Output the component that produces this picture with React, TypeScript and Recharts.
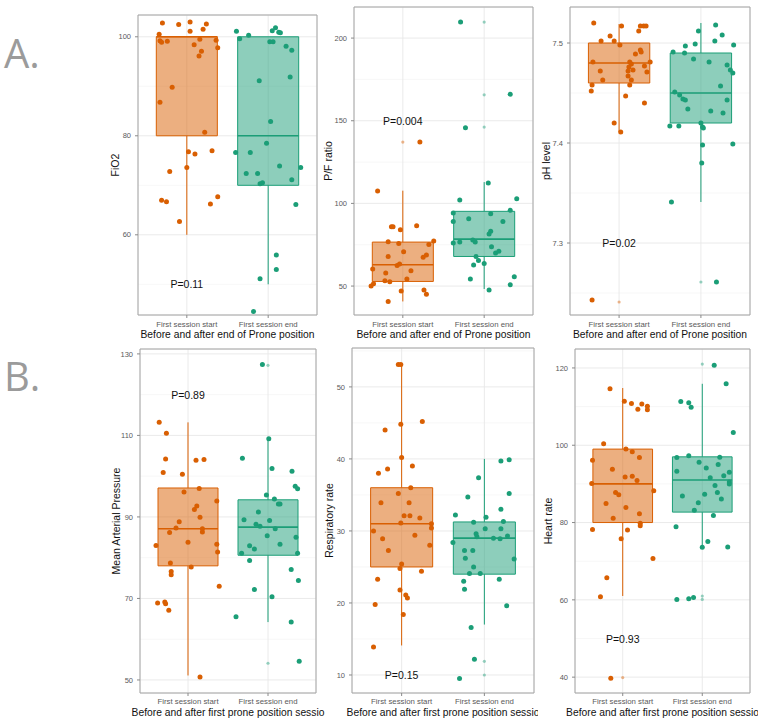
import React from 'react';
import {
  ComposedChart,
  Scatter,
  XAxis,
  YAxis,
  CartesianGrid,
  ReferenceArea,
  ReferenceLine,
} from 'recharts';

const CATEGORIES = ['First session start', 'First session end'];
const ORANGE = '#D95F02';
const GREEN = '#1B9E77';

// ---------- A. FiO2 ----------
const fio2StartValues = [102.8, 102.5, 103.0, 101.1, 102.6, 101.5, 100.5, 99.2, 98.9, 99.1, 98.4, 99.5, 97.1, 96.1, 99.3, 97.8, 89.8, 86.8, 80.7, 76.8, 76.3, 77.0, 73.6, 72.8, 67.0, 66.7, 66.2, 67.7, 62.7];
const fio2StartJitter = [-0.30, -0.10, 0.04, 0.04, 0.24, 0.20, -0.34, -0.33, -0.31, -0.24, 0.09, 0.16, 0.18, 0.15, 0.36, 0.38, -0.18, -0.33, 0.22, 0.02, 0.10, 0.31, 0.00, -0.21, -0.31, -0.25, 0.29, 0.38, -0.09];
const fio2EndValues = [101.1, 99.6, 100.3, 101.2, 101.8, 100.9, 100.8, 99.0, 99.0, 98.1, 97.3, 91.1, 91.9, 82.9, 76.6, 76.6, 78.5, 72.4, 72.4, 73.9, 71.1, 73.6, 70.3, 70.5, 66.1, 55.9, 53.0, 51.1, 44.5];
const fio2EndJitter = [-0.39, -0.35, -0.24, 0.05, 0.09, 0.13, 0.15, 0.02, 0.06, 0.22, 0.29, -0.11, 0.27, 0.03, -0.40, -0.22, -0.02, -0.27, -0.13, 0.14, 0.29, 0.40, -0.10, -0.07, 0.34, 0.10, 0.10, -0.10, -0.18];
// box stats: [lower whisker, Q1, median, Q3, upper whisker]
const fio2StartBox = [60, 80, 100, 100, 100];
const fio2EndBox = [50, 70, 80, 100, 100];
const fio2StartOutliers: number[] = [];
const fio2EndOutliers: number[] = [];

// ---------- A. P/F ratio ----------
const pfStartValues = [137.1, 107.5, 85.9, 85.9, 84.1, 86.5, 76.8, 75.8, 77.2, 75.2, 70.8, 67.9, 67.5, 68.8, 60.3, 62.5, 63.3, 59.3, 57.9, 54.2, 51.4, 50.0, 53.2, 52.6, 47.0, 47.6, 45.0, 40.7];
const pfStartJitter = [0.21, -0.31, -0.14, -0.12, -0.03, 0.17, -0.18, -0.05, 0.38, 0.32, 0.01, -0.18, 0.25, 0.29, -0.37, -0.07, -0.04, 0.10, -0.21, 0.05, -0.36, -0.39, -0.22, -0.16, -0.02, 0.26, 0.29, -0.18];
const pfEndValues = [209.7, 166.1, 145.8, 112.3, 102.0, 102.8, 90.7, 94.2, 89.1, 93.8, 95.8, 89.1, 83.1, 81.5, 76.0, 76.6, 77.8, 76.6, 73.8, 70.0, 71.0, 67.9, 65.5, 62.7, 63.7, 54.2, 55.6, 50.8, 47.6];
const pfEndJitter = [-0.29, 0.32, -0.23, 0.05, -0.30, 0.40, -0.19, -0.38, -0.38, 0.08, 0.32, 0.23, 0.08, 0.06, -0.38, -0.30, -0.14, -0.11, 0.09, 0.14, 0.18, -0.10, -0.07, -0.13, 0.00, -0.17, 0.37, 0.32, 0.06];
const pfStartBox = [40.7, 52.8, 62.9, 76.6, 107.7];
const pfEndBox = [48.2, 67.9, 78.4, 95.2, 112.9];
const pfStartOutliers = [137.1];
const pfEndOutliers = [209.7, 165.7, 146.2];

// ---------- A. pH level ----------
const phStartValues = [7.520, 7.517, 7.517, 7.517, 7.517, 7.512, 7.507, 7.502, 7.502, 7.498, 7.493, 7.491, 7.489, 7.481, 7.481, 7.479, 7.481, 7.477, 7.472, 7.476, 7.472, 7.473, 7.471, 7.467, 7.463, 7.463, 7.458, 7.458, 7.452, 7.447, 7.440, 7.420, 7.411, 7.243];
const phStartJitter = [-0.31, 0.03, 0.26, 0.30, 0.33, 0.24, -0.11, -0.22, -0.06, 0.01, 0.26, 0.27, 0.20, -0.32, 0.13, 0.15, 0.38, 0.31, -0.23, 0.12, 0.11, 0.17, 0.34, 0.11, 0.15, -0.20, -0.33, 0.13, -0.34, 0.08, 0.31, -0.06, 0.02, -0.33];
const phEndValues = [7.518, 7.508, 7.512, 7.499, 7.497, 7.491, 7.490, 7.502, 7.498, 7.484, 7.481, 7.478, 7.473, 7.470, 7.451, 7.448, 7.444, 7.443, 7.457, 7.443, 7.434, 7.432, 7.430, 7.417, 7.417, 7.420, 7.416, 7.415, 7.398, 7.399, 7.380, 7.341, 7.261];
const phEndJitter = [0.18, 0.26, -0.03, -0.07, -0.19, -0.34, -0.20, 0.17, 0.40, -0.09, 0.10, 0.32, 0.36, 0.39, -0.32, -0.26, -0.22, -0.19, 0.24, 0.32, -0.16, 0.12, 0.27, -0.38, -0.27, 0.00, 0.02, 0.03, 0.02, 0.39, 0.01, -0.36, 0.19];
const phStartBox = [7.411, 7.46, 7.48, 7.50, 7.519];
const phEndBox = [7.341, 7.42, 7.45, 7.49, 7.52];
const phStartOutliers = [7.241];
const phEndOutliers = [7.261];

// ---------- B. Mean Arterial Pressure ----------
const mapStartValues = [113.2, 110.5, 104.2, 100.9, 100.5, 103.9, 104.1, 96.1, 97.0, 93.9, 92.7, 91.8, 89.9, 88.8, 87.3, 86.2, 87.1, 86.3, 83.0, 83.8, 83.3, 81.4, 78.7, 76.6, 75.8, 77.7, 73.0, 68.9, 69.1, 68.7, 67.1, 50.7];
const mapStartJitter = [-0.36, -0.27, -0.28, -0.31, -0.07, 0.10, 0.20, -0.05, 0.14, 0.36, 0.11, 0.08, 0.15, -0.11, -0.15, -0.23, 0.18, 0.18, -0.40, 0.00, 0.36, 0.37, -0.22, -0.21, -0.21, 0.04, 0.39, -0.38, -0.29, -0.28, -0.24, 0.15];
const mapEndValues = [127.4, 109.2, 104.4, 101.9, 101.2, 97.5, 96.9, 95.4, 94.4, 93.2, 93.2, 91.2, 89.3, 89.1, 88.2, 87.1, 87.7, 85.4, 85.0, 82.9, 82.1, 81.1, 83.3, 81.1, 79.3, 77.1, 74.4, 72.2, 70.4, 65.5, 64.2, 54.6];
const mapEndJitter = [-0.07, 0.01, -0.32, 0.05, 0.30, 0.34, 0.37, -0.02, 0.08, 0.13, 0.15, -0.12, -0.30, 0.02, -0.15, 0.09, -0.10, -0.01, 0.35, -0.23, -0.17, -0.33, 0.15, 0.37, -0.23, 0.29, 0.38, -0.17, 0.05, -0.40, 0.29, 0.39];
const mapStartBox = [51.1, 78.0, 87.1, 97.1, 113.2];
const mapEndBox = [64.2, 80.6, 87.5, 94.2, 109.2];
const mapStartOutliers: number[] = [];
const mapEndOutliers = [127.2, 54.1];

// ---------- B. Respiratory rate ----------
const rrStartValues = [53.1, 53.1, 45.2, 44.8, 44.0, 40.2, 39.0, 38.6, 38.0, 35.2, 36.0, 33.9, 33.9, 32.1, 32.1, 31.8, 31.1, 31.0, 30.4, 30.0, 28.9, 29.4, 28.0, 27.3, 25.4, 24.8, 24.4, 23.3, 21.8, 21.1, 20.7, 19.8, 18.4, 13.9];
const rrStartJitter = [-0.04, -0.01, 0.25, -0.01, -0.20, 0.00, 0.13, -0.17, -0.28, -0.04, 0.11, -0.25, 0.09, 0.03, 0.10, 0.22, -0.01, 0.36, 0.36, -0.34, -0.23, 0.16, 0.34, -0.16, 0.00, -0.02, 0.24, -0.29, -0.02, 0.05, 0.07, -0.32, 0.02, -0.34];
const rrEndValues = [39.7, 39.9, 37.4, 34.7, 35.2, 33.0, 32.2, 31.9, 31.2, 31.3, 29.6, 29.2, 30.3, 29.0, 30.3, 28.9, 29.3, 28.4, 27.3, 27.3, 26.2, 26.1, 25.0, 24.1, 24.1, 23.0, 23.3, 21.9, 19.6, 16.6, 12.2, 9.5];
const rrEndJitter = [0.20, 0.30, -0.07, -0.20, 0.30, 0.20, -0.35, 0.02, -0.13, 0.23, -0.10, -0.09, 0.01, 0.11, 0.20, 0.19, 0.28, -0.38, -0.24, -0.14, -0.23, 0.36, -0.13, -0.18, -0.05, -0.25, 0.18, -0.24, 0.27, -0.16, -0.12, -0.30];
const rrStartBox = [14.1, 25.0, 31.0, 36.0, 53.1];
const rrEndBox = [17.0, 24.0, 29.0, 31.25, 40.0];
const rrStartOutliers: number[] = [];
const rrEndOutliers = [11.9, 10.0];

// ---------- B. Heart rate ----------
const hrStartValues = [114.6, 111.4, 110.8, 110.7, 109.3, 110.1, 109.2, 100.4, 96.1, 99.0, 98.3, 96.8, 93.8, 91.8, 92.0, 90.9, 90.1, 87.8, 87.2, 88.2, 84.9, 83.9, 82.3, 81.1, 79.8, 79.2, 78.2, 78.1, 75.8, 70.7, 65.7, 60.8, 39.7];
const hrStartJitter = [-0.16, 0.02, 0.11, 0.24, 0.19, 0.31, 0.31, -0.24, -0.38, 0.04, 0.12, 0.21, -0.13, 0.03, 0.12, 0.18, -0.39, -0.09, -0.05, 0.39, -0.21, 0.04, 0.21, -0.12, 0.22, 0.22, -0.38, 0.06, -0.02, 0.38, -0.20, -0.28, -0.15];
const hrEndValues = [120.7, 115.9, 111.3, 111.0, 109.8, 103.3, 97.3, 96.8, 96.9, 95.6, 95.0, 93.3, 93.0, 94.1, 91.6, 92.1, 90.5, 90.0, 89.6, 87.8, 86.9, 87.3, 86.1, 85.1, 83.2, 81.8, 78.9, 75.1, 73.6, 73.7, 60.1, 60.3, 60.6];
const hrEndJitter = [0.15, 0.30, -0.27, -0.17, -0.14, 0.39, -0.17, -0.32, 0.22, -0.04, 0.20, -0.32, 0.34, 0.05, 0.10, 0.27, 0.34, 0.34, 0.16, 0.19, -0.25, 0.03, 0.24, -0.05, -0.10, 0.14, -0.33, 0.07, 0.00, 0.32, -0.32, -0.17, -0.11];
const hrStartBox = [61.0, 80.0, 90.0, 99.0, 114.8];
const hrEndBox = [73.6, 82.7, 91.0, 97.0, 115.9];
const hrStartOutliers = [39.9];
const hrEndOutliers = [121.0, 61.0, 60.1];

// ---------- panel texts ----------
const TOP_X_TITLE = 'Before and after end of Prone position';
// the reference shows this title cut at the panel edge
const BOTTOM_X_TITLE = 'Before and after first prone position sessio';

type Group = { values: number[]; jitter: number[]; box: number[]; outliers: number[]; color: string };

type PanelProps = {
  left: number;
  top: number;
  width: number;
  height: number;
  plot: { x0: number; x1: number; y0: number; y1: number };
  domain: [number, number];
  ticks: number[];
  minorTicks: number[];
  yTitle: string;
  yTitleOffset: number;
  xTitle: string;
  xTitleOffset: number;
  xTickMargin: number;
  pText: string;
  pY: number;
  groups: Group[];
};

const HALF = 0.375;

function Panel(p: PanelProps) {
  const margin = {
    top: p.plot.y0 - p.top,
    right: p.left + p.width - p.plot.x1,
    left: 0,
    bottom: 0,
  };
  const yAxisWidth = p.plot.x0 - p.left;
  const xAxisHeight = p.top + p.height - p.plot.y1;

  return (
    <div style={{ position: 'absolute', left: p.left, top: p.top, width: p.width, height: p.height }}>
      <ComposedChart width={p.width} height={p.height} margin={margin}>
        <CartesianGrid yAxisId="minor" vertical={false} stroke="#f2f2f2" strokeWidth={0.6} />
        <CartesianGrid stroke="#e8e8e8" strokeWidth={0.9} />
        <XAxis
          type="number"
          dataKey="x"
          domain={[0.4, 2.6]}
          ticks={[1, 2]}
          allowDataOverflow
          interval={0}
          tickFormatter={(v: number) => CATEGORIES[Math.round(v) - 1]}
          axisLine={false}
          tickLine={{ stroke: '#8a8a8a' }}
          tickSize={3}
          tickMargin={p.xTickMargin}
          tick={{ fontSize: 7.8, fill: '#5a5a5a' }}
          height={xAxisHeight}
          label={{ value: p.xTitle, position: 'insideBottom', offset: p.xTitleOffset, fontSize: 10.3, fill: '#111' }}
        />
        <YAxis
          type="number"
          dataKey="y"
          domain={p.domain}
          ticks={p.ticks}
          allowDataOverflow
          interval={0}
          width={yAxisWidth}
          axisLine={false}
          tickLine={{ stroke: '#8a8a8a' }}
          tickSize={3}
          tickMargin={4}
          tick={{ fontSize: 7.5, fill: '#5a5a5a' }}
          label={{
            value: p.yTitle,
            angle: -90,
            position: 'insideLeft',
            offset: p.yTitleOffset,
            fontSize: 10.5,
            fill: '#111',
            style: { textAnchor: 'middle' },
          }}
        />
        <YAxis yAxisId="minor" type="number" domain={p.domain} ticks={p.minorTicks} allowDataOverflow hide />

        {p.groups.map((g, i) => {
          const c = i + 1;
          const [, q1, , q3] = g.box;
          return (
            <ReferenceArea
              key={'box' + i}
              x1={c - HALF}
              x2={c + HALF}
              y1={q1}
              y2={q3}
              fill={g.color}
              fillOpacity={0.5}
              stroke={g.color}
              strokeWidth={1}
              ifOverflow="visible"
            />
          );
        })}
        {p.groups.map((g, i) => {
          const c = i + 1;
          const [lo, q1, med, q3, hi] = g.box;
          return [
            <ReferenceLine
              key={'med' + i}
              segment={[{ x: c - HALF, y: med }, { x: c + HALF, y: med }]}
              stroke={g.color}
              strokeWidth={1.6}
              ifOverflow="visible"
            />,
            hi > q3 ? (
              <ReferenceLine
                key={'wh' + i}
                segment={[{ x: c, y: q3 }, { x: c, y: hi }]}
                stroke={g.color}
                strokeWidth={1}
                ifOverflow="visible"
              />
            ) : null,
            lo < q1 ? (
              <ReferenceLine
                key={'wl' + i}
                segment={[{ x: c, y: lo }, { x: c, y: q1 }]}
                stroke={g.color}
                strokeWidth={1}
                ifOverflow="visible"
              />
            ) : null,
          ];
        })}
        <ReferenceArea
          x1={0.4}
          x2={2.6}
          y1={p.domain[0]}
          y2={p.domain[1]}
          fill="none"
          fillOpacity={0}
          stroke="#a6a6a6"
          strokeWidth={1}
          ifOverflow="visible"
        />
        {p.groups.map((g, i) => (
          <Scatter
            key={'out' + i}
            data={g.outliers.map((v) => ({ x: i + 1, y: v }))}
            isAnimationActive={false}
            shape={(s: any) => <circle cx={s.cx} cy={s.cy} r={1.6} fill={g.color} fillOpacity={0.45} />}
          />
        ))}
        {p.groups.map((g, i) => (
          <Scatter
            key={'pts' + i}
            data={g.values.map((v, k) => ({ x: i + 1 + g.jitter[k], y: v }))}
            isAnimationActive={false}
            shape={(s: any) => <circle cx={s.cx} cy={s.cy} r={2.5} fill={g.color} />}
          />
        ))}
        <Scatter
          data={[{ x: 1, y: p.pY }]}
          isAnimationActive={false}
          shape={(s: any) => (
            <text x={s.cx} y={s.cy} textAnchor="middle" dominantBaseline="central" fontSize={10.5} fill="#111">
              {p.pText}
            </text>
          )}
        />
      </ComposedChart>
    </div>
  );
}

export default function App() {
  const g = (values: number[], jitter: number[], box: number[], outliers: number[], color: string): Group => ({
    values,
    jitter,
    box,
    outliers,
    color,
  });

  return (
    <div
      style={{
        position: 'absolute',
        left: 0,
        top: 0,
        width: 760,
        height: 726,
        background: '#fff',
        overflow: 'hidden',
        fontFamily: "'Liberation Sans', Arial, sans-serif",
      }}
    >
      <svg width={760} height={726} style={{ position: 'absolute', left: 0, top: 0 }}>
        <text x={4} y={68} fontSize={40} fill="#9b9b9b" fontFamily="'Open Sans', sans-serif">A.</text>
        <text x={4} y={391} fontSize={40} fill="#9b9b9b" fontFamily="'Open Sans', sans-serif">B.</text>
      </svg>

      <Panel
        left={100}
        top={0}
        width={225}
        height={345}
        plot={{ x0: 138, x1: 317, y0: 15, y1: 315 }}
        domain={[43.8, 104.4]}
        ticks={[60, 80, 100]}
        minorTicks={[50, 70, 90]}
        yTitle="FiO2"
        yTitleOffset={15}
        xTitle={TOP_X_TITLE}
        xTitleOffset={7}
        xTickMargin={3}
        pText="P=0.11"
        pY={50}
        groups={[
          g(fio2StartValues, fio2StartJitter, fio2StartBox, fio2StartOutliers, ORANGE),
          g(fio2EndValues, fio2EndJitter, fio2EndBox, fio2EndOutliers, GREEN),
        ]}
      />
      <Panel
        left={320}
        top={0}
        width={218}
        height={345}
        plot={{ x0: 354, x1: 533, y0: 7, y1: 315 }}
        domain={[32.5, 218.8]}
        ticks={[50, 100, 150, 200]}
        minorTicks={[75, 125, 175]}
        yTitle="P/F ratio"
        yTitleOffset={8}
        xTitle={TOP_X_TITLE}
        xTitleOffset={7}
        xTickMargin={3}
        pText="P=0.004"
        pY={150}
        groups={[
          g(pfStartValues, pfStartJitter, pfStartBox, pfStartOutliers, ORANGE),
          g(pfEndValues, pfEndJitter, pfEndBox, pfEndOutliers, GREEN),
        ]}
      />
      <Panel
        left={538}
        top={0}
        width={222}
        height={345}
        plot={{ x0: 570, x1: 750, y0: 7, y1: 315 }}
        domain={[7.228, 7.536]}
        ticks={[7.3, 7.4, 7.5]}
        minorTicks={[7.25, 7.35, 7.45]}
        yTitle="pH level"
        yTitleOffset={8}
        xTitle={TOP_X_TITLE}
        xTitleOffset={7}
        xTickMargin={3}
        pText="P=0.02"
        pY={7.3}
        groups={[
          g(phStartValues, phStartJitter, phStartBox, phStartOutliers, ORANGE),
          g(phEndValues, phEndJitter, phEndBox, phEndOutliers, GREEN),
        ]}
      />

      <Panel
        left={100}
        top={340}
        width={229}
        height={386}
        plot={{ x0: 140, x1: 316, y0: 349, y1: 693 }}
        domain={[46.8, 131.2]}
        ticks={[50, 70, 90, 110, 130]}
        minorTicks={[60, 80, 100, 120]}
        yTitle="Mean Arterial Pressure"
        yTitleOffset={16}
        xTitle={BOTTOM_X_TITLE}
        xTitleOffset={10}
        xTickMargin={2}
        pText="P=0.89"
        pY={120}
        groups={[
          g(mapStartValues, mapStartJitter, mapStartBox, mapStartOutliers, ORANGE),
          g(mapEndValues, mapEndJitter, mapEndBox, mapEndOutliers, GREEN),
        ]}
      />
      <Panel
        left={322}
        top={340}
        width={216}
        height={386}
        plot={{ x0: 352, x1: 534, y0: 348, y1: 693 }}
        domain={[7.5, 55.4]}
        ticks={[10, 20, 30, 40, 50]}
        minorTicks={[15, 25, 35, 45, 55]}
        yTitle="Respiratory rate"
        yTitleOffset={7}
        xTitle={BOTTOM_X_TITLE}
        xTitleOffset={10}
        xTickMargin={2}
        pText="P=0.15"
        pY={10}
        groups={[
          g(rrStartValues, rrStartJitter, rrStartBox, rrStartOutliers, ORANGE),
          g(rrEndValues, rrEndJitter, rrEndBox, rrEndOutliers, GREEN),
        ]}
      />
      <Panel
        left={540}
        top={340}
        width={218}
        height={386}
        plot={{ x0: 575, x1: 750, y0: 349, y1: 693 }}
        domain={[35.9, 124.9]}
        ticks={[40, 60, 80, 100, 120]}
        minorTicks={[50, 70, 90, 110]}
        yTitle="Heart rate"
        yTitleOffset={8}
        xTitle={BOTTOM_X_TITLE}
        xTitleOffset={10}
        xTickMargin={2}
        pText="P=0.93"
        pY={50}
        groups={[
          g(hrStartValues, hrStartJitter, hrStartBox, hrStartOutliers, ORANGE),
          g(hrEndValues, hrEndJitter, hrEndBox, hrEndOutliers, GREEN),
        ]}
      />
    </div>
  );
}
